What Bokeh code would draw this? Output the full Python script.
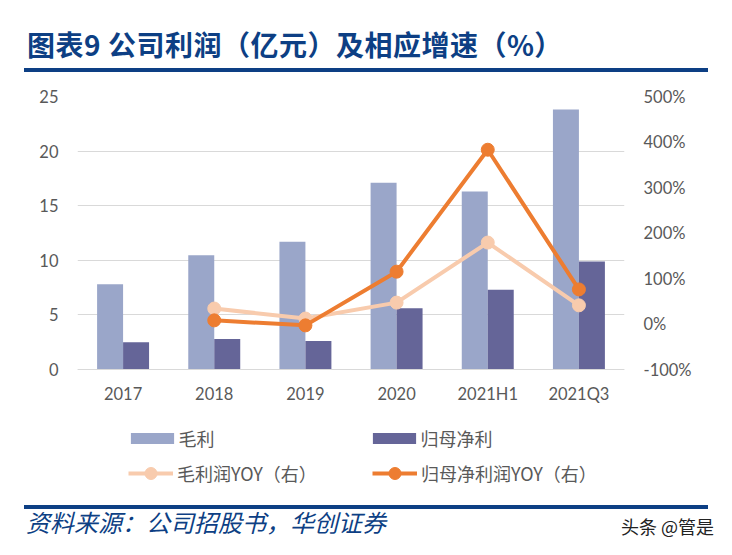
from bokeh.plotting import figure
from bokeh.models import (ColumnDataSource, FactorRange, Range1d, LinearAxis, FixedTicker,
                          PrintfTickFormatter, Legend, LegendItem, Div)
from bokeh.layouts import column
from bokeh.transform import dodge
from bokeh.embed import file_html
from bokeh.resources import INLINE

# ---- data ----
categories = ["2017", "2018", "2019", "2020", "2021H1", "2021Q3"]
gross_profit = [7.8, 10.45, 11.7, 17.1, 16.3, 23.8]          # 毛利 (亿元)
net_profit = [2.5, 2.8, 2.6, 5.6, 7.3, 9.9]                  # 归母净利 (亿元)
yoy_categories = ["2018", "2019", "2020", "2021H1", "2021Q3"]
gross_yoy = [34, 12, 47, 179, 41]                           # 毛利润YOY (%)
net_yoy = [8, -3, 115, 383, 76]                             # 归母净利润YOY (%)
left_ticks = [0, 5, 10, 15, 20, 25]
right_ticks = [-100, 0, 100, 200, 300, 400, 500]

W = 732
HEAD_H, FIG_H, FOOT_H = 80, 420, 55
FL, FR, FT, FB = 77, 108, 16, 6          # frame borders inside the figure

NAVY = "#0d3f84"
CJK = "Noto Sans CJK SC"
TICK_FONT = "Lato"
TICK_COLOR = "#595959"

bar_src = ColumnDataSource(dict(cat=categories, gp=gross_profit, np=net_profit))
yoy_src = ColumnDataSource(dict(cat=yoy_categories, g=gross_yoy, n=net_yoy))

p = figure(width=W, height=FIG_H, x_range=FactorRange(*categories), y_range=Range1d(-11.45, 25),
           output_backend="svg", toolbar_location=None, title=None,
           min_border_left=FL, min_border_right=FR, min_border_top=FT, min_border_bottom=FB,
           margin=0)
p.outline_line_color = None
p.xgrid.grid_line_color = None
p.ygrid.grid_line_color = "#d9d9d9"
p.ygrid.grid_line_width = 1


def style_axis(ax, standoff):
    ax.axis_line_color = None
    ax.major_tick_line_color = None
    ax.minor_tick_line_color = None
    ax.major_tick_out = 0
    ax.major_tick_in = 0
    ax.minor_tick_out = 0
    ax.major_label_text_font = TICK_FONT
    ax.major_label_text_font_size = "16.5px"
    ax.major_label_text_color = TICK_COLOR
    ax.major_label_standoff = standoff


style_axis(p.yaxis[0], 19)
p.yaxis.ticker = FixedTicker(ticks=left_ticks)

style_axis(p.xaxis[0], 15)
p.xaxis.axis_line_color = "#d9d9d9"
p.xaxis.fixed_location = 0

p.extra_y_ranges = {"yoy": Range1d(-374.7, 500)}
rax = LinearAxis(y_range_name="yoy", ticker=FixedTicker(ticks=right_ticks),
                 formatter=PrintfTickFormatter(format="%d%%"))
style_axis(rax, 19)
p.add_layout(rax, "right")

bw = 0.285
r_gp = p.vbar(x=dodge("cat", -bw / 2, range=p.x_range), top="gp", width=bw, source=bar_src,
              fill_color="#9aa6c9", line_color=None)
r_np = p.vbar(x=dodge("cat", bw / 2, range=p.x_range), top="np", width=bw, source=bar_src,
              fill_color="#656598", line_color=None)

LIGHT = "#f8cbad"
ORANGE = "#ed7d31"
l_g = p.line(x="cat", y="g", source=yoy_src, y_range_name="yoy", line_color=LIGHT, line_width=4)
s_g = p.scatter(x="cat", y="g", source=yoy_src, y_range_name="yoy", size=13, fill_color=LIGHT,
                line_color=LIGHT)
l_n = p.line(x="cat", y="n", source=yoy_src, y_range_name="yoy", line_color=ORANGE, line_width=4)
s_n = p.scatter(x="cat", y="n", source=yoy_src, y_range_name="yoy", size=13, fill_color=ORANGE,
                line_color=ORANGE)


def mk_legend(items, vx, vy, gw, gh, lh, standoff, lw, spacing):
    lg = Legend(items=items, orientation="horizontal", location=(vx, vy),
                glyph_width=gw, glyph_height=gh, label_height=lh, label_width=lw,
                label_standoff=standoff, spacing=spacing, padding=0, margin=0,
                border_line_color=None, background_fill_alpha=0,
                label_text_font=CJK, label_text_font_size="18px", label_text_color=TICK_COLOR)
    p.add_layout(lg, "center")


mk_legend([LegendItem(label="毛利", renderers=[r_gp]),
           LegendItem(label="归母净利", renderers=[r_np])],
          47.6, 43, 54, 14, 26, 0, 170, 18)
mk_legend([LegendItem(label="毛利润YOY（右）", renderers=[l_g, s_g]),
           LegendItem(label="归母净利润YOY（右）", renderers=[l_n, s_n])],
          51, 6, 45, 30, 30, 4, 175, 20)

header = Div(width=W, height=HEAD_H, margin=0, text=(
    '<div style="position:relative;width:732px;height:80px;">'
    f'<div style="position:absolute;left:27px;top:30px;white-space:nowrap;'
    f'font-family:\'{CJK}\';font-weight:bold;font-size:28px;line-height:28px;'
    f'letter-spacing:0.5px;color:{NAVY};">图表9 公司利润（亿元）及相应增速（%）</div>'
    f'<div style="position:absolute;left:24px;top:68px;width:684px;height:4px;'
    f'background:{NAVY};"></div></div>'))

footer = Div(width=W, height=FOOT_H, margin=0, text=(
    '<div style="position:relative;width:732px;height:55px;">'
    f'<div style="position:absolute;left:24px;top:5px;width:684px;height:4px;'
    f'background:{NAVY};"></div>'
    f'<div style="position:absolute;left:26px;top:10px;white-space:nowrap;'
    f'font-family:\'{CJK}\';font-style:italic;font-size:24px;line-height:24px;'
    f'color:{NAVY};">资料来源：公司招股书，华创证券</div>'
    f'<div style="position:absolute;left:621px;top:17px;white-space:nowrap;'
    f'font-family:\'{CJK}\';font-size:18px;line-height:18px;'
    f'color:#222222;">头条 @管是</div></div>'))

layout = column(header, p, footer, spacing=0, margin=0)
open("out.html", "w").write(file_html(layout, INLINE))
